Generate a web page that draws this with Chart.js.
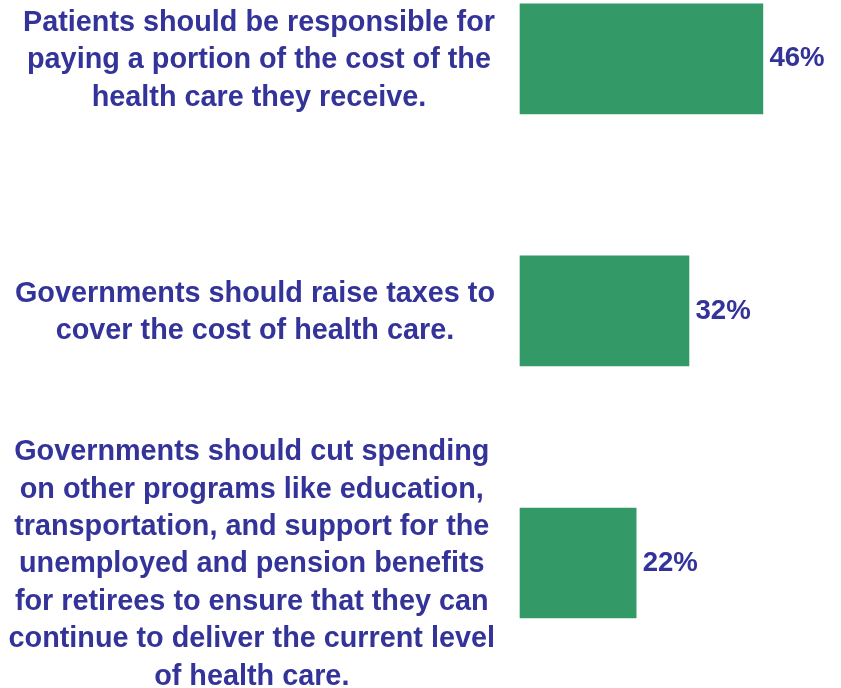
<!DOCTYPE html>
<html>
<head>
<meta charset="utf-8">
<script src="https://cdn.jsdelivr.net/npm/chart.js@4/dist/chart.umd.min.js"></script>
<style>
  html, body { margin: 0; padding: 0; background: #fff; }
  #wrap { width: 841px; height: 688px; }
</style>
</head>
<body>
<div id="wrap"><canvas id="chart"></canvas></div>
<script>
const statements = [
  ["Patients should be responsible for", "paying a portion of the cost of the", "health care they receive."],
  ["Governments should raise taxes to", "cover the cost of health care."],
  ["Governments should cut spending", "on other programs like education,", "transportation, and support for the",
   "unemployed and pension benefits", "for retirees to ensure that they can",
   "continue to deliver the current level", "of health care."]
];
const shares = [46, 32, 22];
const axisMax = 50;

const textColor = "#333399";
const barColor = "#339966";
const fontFamily = '"Liberation Sans", Arial, Helvetica, sans-serif';

// statements sit left of the bars: each block right-aligned, its lines centred
const sideLabels = {
  id: "sideLabels",
  afterDatasetsDraw(chart) {
    const ctx = chart.ctx;
    const meta = chart.getDatasetMeta(0);
    const right = chart.chartArea.left - 25;
    ctx.save();
    ctx.fillStyle = textColor;
    ctx.textBaseline = "middle";

    ctx.font = "bold 28.8px " + fontFamily;
    ctx.textAlign = "center";
    statements.forEach((lines, i) => {
      const y = meta.data[i].y + 1.5;
      const widest = Math.max(...lines.map((l) => ctx.measureText(l).width));
      const cx = right - widest / 2;
      lines.forEach((line, j) => {
        ctx.fillText(line, cx, y + (j - (lines.length - 1) / 2) * 37.4);
      });
    });

    ctx.font = "bold 27.6px " + fontFamily;
    ctx.textAlign = "left";
    meta.data.forEach((bar, i) => {
      ctx.fillText(shares[i] + "%", bar.x + 6.5, bar.y);
    });
    ctx.restore();
  }
};

new Chart(document.getElementById("chart"), {
  type: "bar",
  data: {
    labels: statements,
    datasets: [{
      data: shares,
      backgroundColor: barColor,
      borderWidth: 0,
      barThickness: 110,
      clip: false
    }]
  },
  options: {
    indexAxis: "y",
    responsive: true,
    maintainAspectRatio: false,
    animation: false,
    layout: { padding: { left: 520, right: 57, top: 58.8, bottom: 125 } },
    plugins: {
      legend: { display: false },
      tooltip: { enabled: false }
    },
    scales: {
      x: { type: "linear", display: false, min: 0, max: axisMax },
      y: { display: false, offset: false }
    }
  },
  plugins: [sideLabels]
});
</script>
</body>
</html>
